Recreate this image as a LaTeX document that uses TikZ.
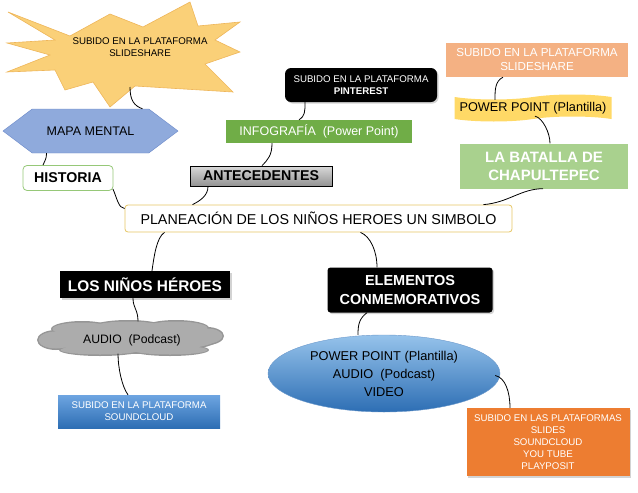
\documentclass[tikz,border=0pt]{standalone}
\usepackage{fontspec}
\setmainfont{Liberation Sans}
\usetikzlibrary{shapes.symbols,shapes.geometric,shadows}
\definecolor{starfill}{RGB}{250,208,120}
\definecolor{stardraw}{RGB}{238,182,90}
\definecolor{hexfill}{RGB}{143,170,220}
\definecolor{hexdraw}{RGB}{105,135,200}
\definecolor{histdraw}{RGB}{150,200,120}
\definecolor{maindraw}{RGB}{230,198,100}
\definecolor{infofill}{RGB}{112,173,71}
\definecolor{salmonfill}{RGB}{244,177,131}
\definecolor{ppyellow}{RGB}{255,217,102}
\definecolor{batallafill}{RGB}{169,209,142}
\definecolor{orangefill}{RGB}{237,125,49}
\definecolor{blueTop}{RGB}{150,195,235}
\definecolor{blueBot}{RGB}{45,110,180}
\definecolor{sbTop}{RGB}{110,165,225}
\definecolor{sbBot}{RGB}{45,110,180}
\definecolor{cloudfill}{RGB}{172,172,172}
\definecolor{cloudedge}{RGB}{150,150,150}
\begin{document}
\begin{tikzpicture}[x=1pt,y=-1pt,
  conn/.style={draw=black,line width=0.8pt},
  bx/.style={rectangle,inner sep=0pt,align=center},
  fsmall/.style={font=\fontsize{9.7}{12}\selectfont},
  fmid/.style={font=\fontsize{12.5}{15}\selectfont},
  fbold/.style={font=\fontsize{14.2}{17}\selectfont\bfseries},
  shad/.style={drop shadow={opacity=0.35,shadow xshift=1.5pt,shadow yshift=-1.5pt}}]
\useasboundingbox (0,0) rectangle (638,493);
% star burst
\filldraw[fill=starfill,draw=stardraw,line width=0.6pt]
 (8,12) -- (70,36) -- (110,14) -- (143,27) -- (190,2) -- (198,26) -- (240,22)
 -- (215,40) -- (240,52) -- (205,64) -- (233,92) -- (135,86) -- (110,107)
 -- (93,82) -- (65,90) -- (55,70) -- (7,72) -- (50,55) -- (7,43) -- (55,40) -- cycle;
\node[bx,fsmall] (star) at (140,47) {SUBIDO EN LA PLATAFORMA\\SLIDESHARE};
\coordinate (starb) at (130,87);
% left branch
\node[signal,signal to=west and east,signal pointer angle=74,minimum width=175pt,minimum height=44pt,
  inner sep=0pt,fill=hexfill,draw=hexdraw,fmid] (mapa) at (90.5,131) {MAPA MENTAL};
\node[bx,rounded corners=4pt,draw=histdraw,line width=0.8pt,fill=white,minimum width=90pt,minimum height=25pt,fbold] (hist) at (68,178) {HISTORIA};
% antecedentes branch
\node[bx,rounded corners=6pt,fill=black,text=white,minimum width=152pt,minimum height=34pt,fsmall,shad] (pin) at (361,85) {SUBIDO EN LA PLATAFORMA\\\bfseries PINTEREST};
\node[bx,fill=infofill,text=white,minimum width=186pt,minimum height=23pt,fmid] (info) at (319,131.5) {INFOGRAFÍA\ \ (Power Point)};
\node[bx,draw=black,line width=0.8pt,top color=gray!30,bottom color=gray!85,minimum width=142pt,minimum height=20pt,fbold] (ante) at (261,176) {ANTECEDENTES};
% right branch
\node[bx,fill=salmonfill,text=white,minimum width=182pt,minimum height=34pt,font=\fontsize{11.6}{14}\selectfont] (salmon) at (537,60) {SUBIDO EN LA PLATAFORMA\\SLIDESHARE};
\node[tape,tape bend height=5pt,fill=ppyellow,inner sep=0pt,minimum width=157pt,minimum height=27pt,font=\fontsize{12.7}{15}\selectfont] (pp) at (533,108) {POWER POINT (Plantilla)};
\node[bx,fill=batallafill,text=white,minimum width=168pt,minimum height=45pt,font=\fontsize{15}{18}\selectfont\bfseries] (bat) at (544,166) {LA BATALLA DE\\CHAPULTEPEC};
% main
\node[bx,rounded corners=3pt,draw=maindraw,line width=0.8pt,fill=white,minimum width=387pt,minimum height=27pt,font=\fontsize{14.3}{17}\selectfont] (main) at (318.5,218.5) {PLANEACIÓN DE LOS NIÑOS HEROES UN SIMBOLO};
% bottom left
\node[bx,fill=black,text=white,minimum width=170pt,minimum height=27pt,font=\fontsize{15.4}{18}\selectfont\bfseries,shad] (ninos) at (145,284.5) {LOS NIÑOS HÉROES};
% cloud drawn from overlapping puffs
\begin{scope}
\fill[cloudedge] (130,339) ellipse (89 and 15);
\fill[cloudedge] (56,340) ellipse (19 and 10);
\fill[cloudedge] (82,329) ellipse (31 and 8);
\fill[cloudedge] (128,327) ellipse (36 and 7);
\fill[cloudedge] (176,328) ellipse (33 and 8);
\fill[cloudedge] (207,336) ellipse (17 and 9);
\fill[cloudedge] (100,350) ellipse (41 and 6);
\fill[cloudedge] (170,350) ellipse (39 and 6);
\fill[cloudfill] (130,339) ellipse (87 and 13);
\fill[cloudfill] (56,340) ellipse (17.5 and 8.5);
\fill[cloudfill] (82,329) ellipse (29.5 and 6.5);
\fill[cloudfill] (128,327) ellipse (34.5 and 5.5);
\fill[cloudfill] (176,328) ellipse (31.5 and 6.5);
\fill[cloudfill] (207,336) ellipse (15.5 and 7.5);
\fill[cloudfill] (100,350) ellipse (39.5 and 4.5);
\fill[cloudfill] (170,350) ellipse (37.5 and 4.5);
\end{scope}
\node[bx,minimum width=185pt,minimum height=34pt] (cloud) at (130,338.5) {};
\node[font=\fontsize{12.2}{15}\selectfont] (audio) at (132,340) {AUDIO\ \ (Podcast)};
\node[bx,top color=sbTop,bottom color=sbBot,text=white,minimum width=162pt,minimum height=33pt,fsmall] (sc) at (139,411.5) {SUBIDO EN LA PLATAFORMA\\SOUNDCLOUD};
% bottom right
\node[bx,rounded corners=3pt,fill=black,text=white,minimum width=165pt,minimum height=45pt,font=\fontsize{14.5}{19}\selectfont\bfseries,shad] (elem) at (410,290) {ELEMENTOS\\CONMEMORATIVOS};
\node[ellipse,top color=blueTop,bottom color=blueBot,draw=blueBot!70,inner sep=0pt,minimum width=232pt,minimum height=77pt,align=center,font=\fontsize{12.8}{18}\selectfont] (ell) at (384,373.5) {POWER POINT (Plantilla)\\AUDIO\ \ (Podcast)\\VIDEO};
\node[bx,fill=orangefill,text=white,minimum width=163pt,minimum height=68pt,font=\fontsize{9.7}{12}\selectfont,shad] (orange) at (548,442) {SUBIDO EN LAS PLATAFORMAS\\SLIDES\\SOUNDCLOUD\\YOU TUBE\\PLAYPOSIT};
% connectors
\draw[conn] (starb) .. controls +(0,14) and +(-8,-3) .. ([xshift=52pt]mapa.north);
\draw[conn] ([xshift=-44pt]mapa.south) .. controls +(0,6) and +(2,-5) .. ([xshift=-25pt]hist.north);
\draw[conn] ([xshift=-0.5pt,yshift=2pt]hist.south east) .. controls +(4,9) and +(-6,0) .. ([yshift=10pt]main.west);
\draw[conn] ([xshift=-53pt]ante.south) .. controls +(0,9) and +(8,-4) .. ([xshift=-126pt]main.north);
\draw[conn] ([xshift=-47pt]info.south) .. controls +(0,12) and +(6,-6) .. ([xshift=1pt]ante.north);
\draw[conn] ([xshift=-56pt]pin.south) .. controls +(0,10) and +(6,-4) .. ([xshift=-20pt]info.north);
\draw[conn] ([xshift=-34pt]salmon.south) .. controls +(-8,4) and +(0,-10) .. ([xshift=-38pt,yshift=-3pt]pp.north);
\draw[conn] ([xshift=2pt,yshift=3pt]pp.south) .. controls +(8,2) and +(0,-10) .. ([xshift=6pt]bat.north);
\draw[conn] ([xshift=-1pt]bat.south) .. controls +(-22,0) and +(25,-2) .. ([xshift=165pt]main.north);
\draw[conn] ([xshift=-154pt]main.south) .. controls +(-8,5) and +(2,-14) .. ([xshift=7pt]ninos.north);
\draw[conn] ([xshift=42pt]main.south) .. controls +(10,4) and +(0,-16) .. ([xshift=-33pt]elem.north);
\draw[conn] ([xshift=-12pt]ninos.south) .. controls +(0,10) and +(0,-12) .. ([xshift=8pt]cloud.north);
\draw[conn] ([xshift=-12pt,yshift=2pt]cloud.south) .. controls +(0,14) and +(-6,-8) .. ([xshift=-11pt]sc.north);
\draw[conn] ([xshift=-43pt]elem.south) .. controls +(-8,6) and +(0,-10) .. ([xshift=-26pt]ell.north);
\draw[conn] ([xshift=-5pt,yshift=-2pt]ell.east) .. controls +(10,2) and +(0,-16) .. ([xshift=-38pt]orange.north);
\end{tikzpicture}
\end{document}
